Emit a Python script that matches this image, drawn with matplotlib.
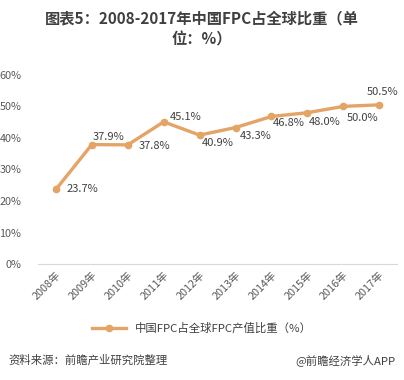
import matplotlib
matplotlib.use("Agg")
import matplotlib.pyplot as plt
from matplotlib.ticker import PercentFormatter

plt.rcParams['font.family'] = ['Noto Sans CJK SC', 'DejaVu Sans']

years = ["2008年", "2009年", "2010年", "2011年", "2012年", "2013年", "2014年", "2015年", "2016年", "2017年"]
values = [23.7, 37.9, 37.8, 45.1, 40.9, 43.3, 46.8, 48.0, 50.0, 50.5]
label_offsets = [(26, 0), (17, 8), (27, -1), (22, 5), (18, -8), (20, -8), (17, -7), (17, -9), (19, -12), (3, 13)]
series_name = "中国FPC占全球FPC产值比重（%）"
title = "图表5：2008-2017年中国FPC占全球比重（单\n位：%）"

color = "#E3A466"
fig = plt.figure(figsize=(4.04, 3.80), dpi=100)
ax = fig.add_axes([0.094, 0.305, 0.889, 0.498])

x = list(range(len(years)))
ax.plot(x, values, color=color, lw=2.4, marker='o', ms=4.5, label=series_name)
for xi, v, (dx, dy) in zip(x, values, label_offsets):
    ax.annotate(f"{v:.1f}%", (xi, v), xytext=(dx, dy), textcoords='offset pixels',
                ha='center', va='center', fontsize=8, color='#404040')

ax.set_xlim(-0.5, 9.5)
ax.set_ylim(0, 60)
ax.set_yticks(range(0, 61, 10))
ax.yaxis.set_major_formatter(PercentFormatter(decimals=0))
ax.set_xticks(x)
ax.set_xticklabels(years, rotation=45, ha='right', rotation_mode='anchor')
ax.tick_params(axis='both', length=0, labelsize=7.8, labelcolor='#595959')
ax.tick_params(axis='y', pad=12)
ax.tick_params(axis='x', pad=4)
for s in ['top', 'right', 'left']:
    ax.spines[s].set_visible(False)
ax.spines['bottom'].set_color('#D9D9D9')

fig.text(0.5, 0.972, title, ha='center', va='top', fontsize=11, fontweight='bold',
         color='#404040', linespacing=1.4)

fig.legend(loc='center', bbox_to_anchor=(0.5, 1 - 328 / 380), frameon=False, fontsize=8.2,
           handlelength=3, labelcolor='#404040')

fig.text(0.02, 1 - 360 / 380, "资料来源：前瞻产业研究院整理", ha='left', va='center',
         fontsize=8.2, style='italic', color='#404040')
fig.text(0.978, 1 - 360 / 380, "@前瞻经济学人APP", ha='right', va='center',
         fontsize=8.2, color='#404040')

fig.savefig("out.png", dpi=100, facecolor='white')
